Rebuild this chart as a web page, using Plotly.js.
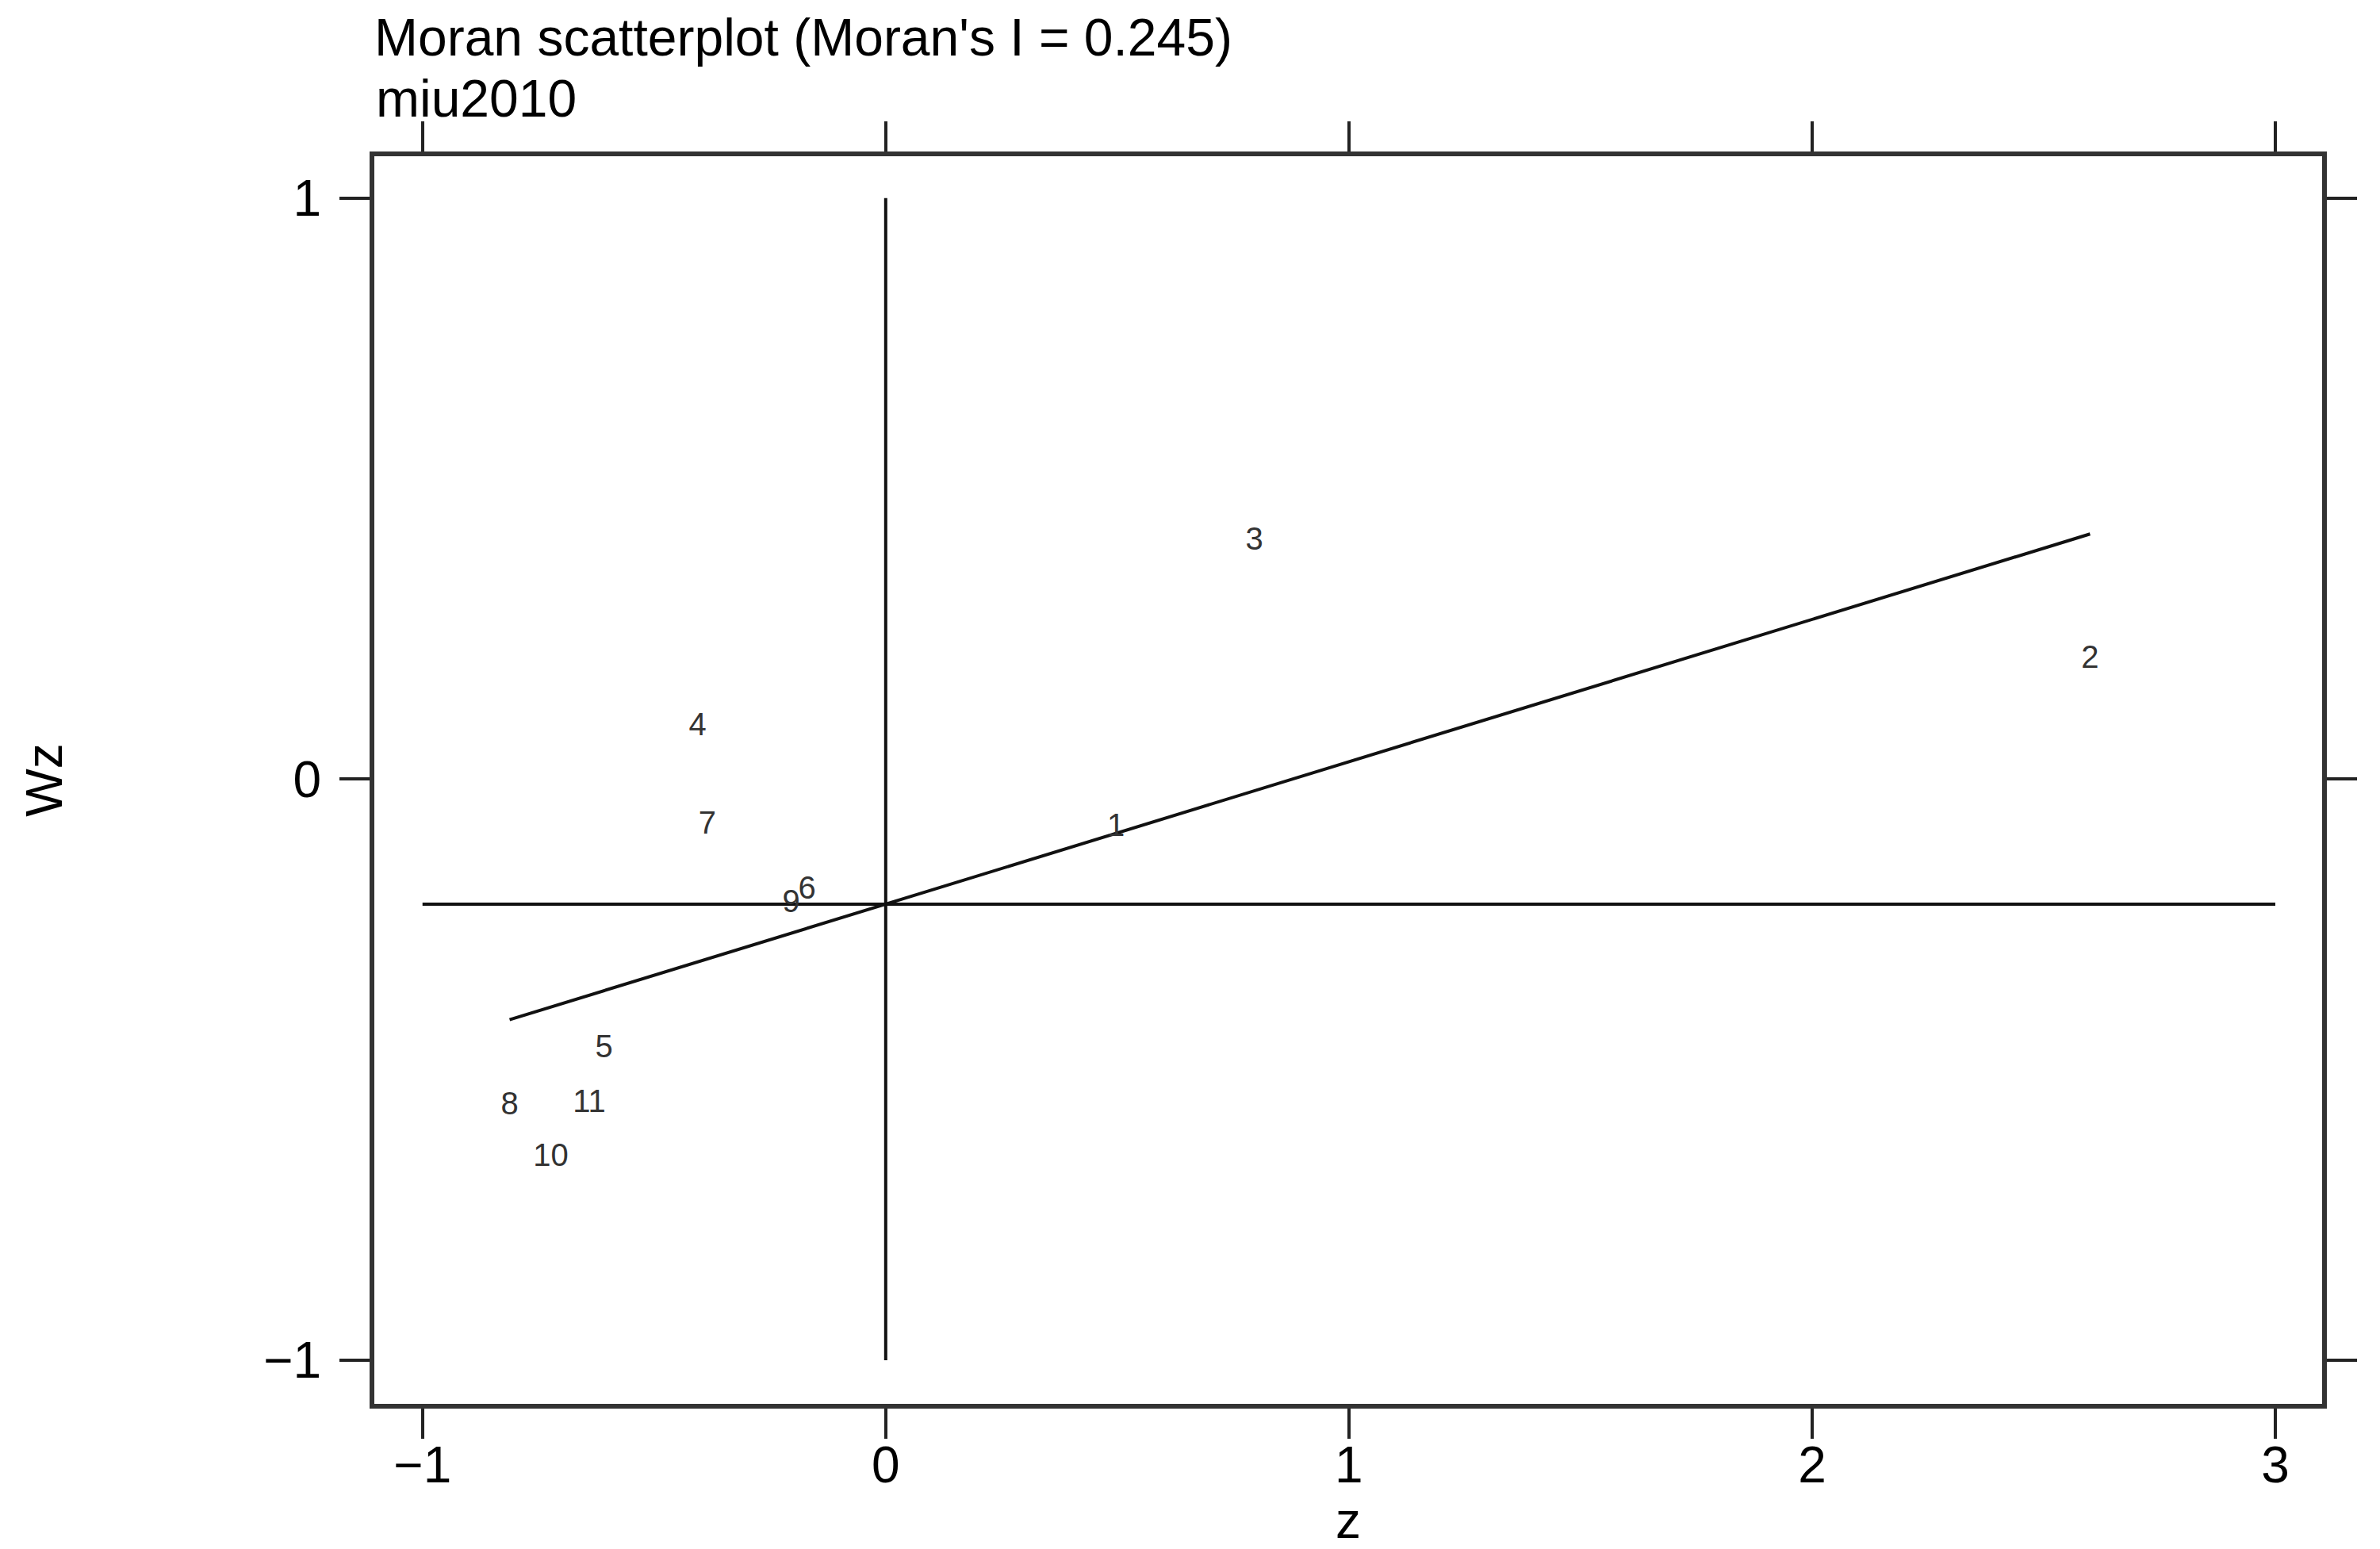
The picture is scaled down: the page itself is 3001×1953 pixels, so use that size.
<!DOCTYPE html>
<html>
<head>
<meta charset="utf-8">
<script src="https://cdn.plot.ly/plotly-3.0.1.min.js"></script>
<style>html,body{margin:0;padding:0;background:#fff;}#chart{width:3001px;height:1953px;}</style>
</head>
<body>
<div id="chart"></div>
<script>
// Region labels and their standardized values (z) and spatially lagged values (Wz)
const regionLabels = ['1', '2', '3', '4', '5', '6', '7', '8', '9', '10', '11'];
const zValues  = [0.497, 2.600, 0.796, -0.406, -0.608, -0.170, -0.385, -0.812, -0.204, -0.723, -0.640];
const wzValues = [-0.084, 0.205, 0.408, 0.089, -0.465, -0.192, -0.080, -0.563, -0.215, -0.652, -0.559];

// Summary statistics
const moranI = 0.245;      // slope of the regression line
const meanWz = -0.215;     // mean of Wz (horizontal reference line / intercept)
const meanZ = 0;           // mean of z (vertical reference line)

const xTicks = [-1, 0, 1, 2, 3];
const yTicks = [-1, 0, 1];
const titleLine1 = "Moran scatterplot (Moran's I = 0.245)";
const titleLine2 = 'miu2010';

const zMin = Math.min(...zValues), zMax = Math.max(...zValues);
const regX = [zMin, zMax];
const regY = regX.map(v => meanWz + moranI * (v - meanZ));

const FONT = 'Liberation Sans, Arial, Helvetica, sans-serif';

const traces = [
  { // horizontal reference line at mean Wz
    x: [xTicks[0], xTicks[xTicks.length - 1]], y: [meanWz, meanWz],
    mode: 'lines', line: {color: '#111', width: 4}, hoverinfo: 'skip', showlegend: false
  },
  { // vertical reference line at mean z
    x: [meanZ, meanZ], y: [yTicks[0], yTicks[yTicks.length - 1]],
    mode: 'lines', line: {color: '#111', width: 4}, hoverinfo: 'skip', showlegend: false
  },
  { // regression line
    x: regX, y: regY,
    mode: 'lines', line: {color: '#111', width: 4}, hoverinfo: 'skip', showlegend: false
  },
  { // labelled points
    x: zValues, y: wzValues, text: regionLabels,
    mode: 'text', textposition: 'middle center',
    textfont: {family: FONT, size: 40, color: '#333'}, showlegend: false
  }
];

const axisCommon = {
  showgrid: false, zeroline: false,
  showline: true, linecolor: '#333', linewidth: 6, mirror: 'ticks',
  ticks: 'outside', ticklen: 38, tickwidth: 4, tickcolor: '#222',
  tickfont: {family: FONT, size: 64, color: '#000'},
  tickmode: 'array'
};

const layout = {
  width: 3001, height: 1953,
  paper_bgcolor: '#fff', plot_bgcolor: '#fff',
  margin: {l: 472, r: 73, t: 197, b: 183, autoexpand: false},
  font: {family: FONT, color: '#000'},
  title: {
    text: titleLine1,
    font: {family: FONT, size: 66, color: '#000'},
    x: 472 / 3001, xanchor: 'left', xref: 'container',
    y: 1 - 47 / 1953, yanchor: 'middle', yref: 'container'
  },
  annotations: [{
    text: titleLine2, xref: 'paper', yref: 'paper', x: 0, y: 1 + (197 - 124) / 1573,
    xanchor: 'left', yanchor: 'middle', showarrow: false,
    font: {family: FONT, size: 66, color: '#000'}
  }],
  xaxis: Object.assign({}, axisCommon, {
    range: [-1.104, 3.101], tickvals: xTicks,
    ticklabelstandoff: -22,
    title: {text: 'z', font: {family: FONT, size: 64, color: '#000'}, standoff: 34}
  }),
  yaxis: Object.assign({}, axisCommon, {
    range: [-1.075, 1.072], tickvals: yTicks,
    ticklabelstandoff: 10,
    title: {text: 'Wz', font: {family: FONT, size: 64, color: '#000'}, standoff: 235}
  })
};

Plotly.newPlot('chart', traces, layout, {staticPlot: true, displayModeBar: false});
</script>
</body>
</html>
